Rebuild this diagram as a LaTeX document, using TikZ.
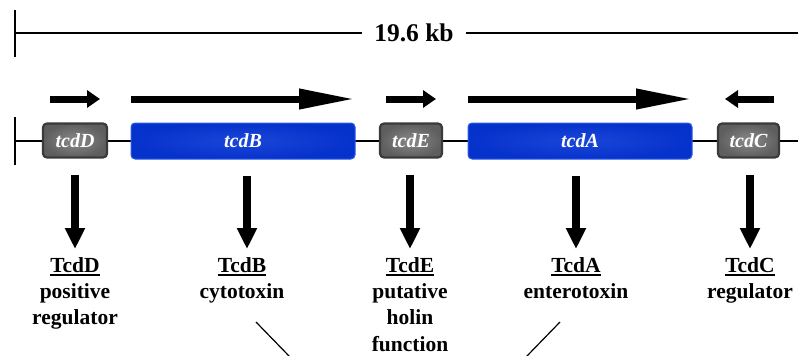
\documentclass[tikz,border=0pt]{standalone}
\usepackage{fontspec}
\setmainfont{Liberation Serif}
\usetikzlibrary{arrows.meta}
% thick underline for protein names
\newcommand\protul[1]{\setbox0\hbox{#1}\leavevmode\rlap{\rule[-3.6pt]{\wd0}{1.6pt}}\box0}
\definecolor{genegrayedge}{HTML}{3A3A3A}
\definecolor{genegrayin}{HTML}{8A8A8A}
\definecolor{genegrayout}{HTML}{5E5E5E}
\definecolor{geneblueedge}{HTML}{2A5AE8}
\definecolor{geneblueout}{HTML}{0632CC}
\definecolor{genebluein}{HTML}{1A46D8}
\tikzset{
  smallgene/.style={rounded corners=4pt, draw=genegrayedge, line width=2.2pt,
    inner color=genegrayin, outer color=genegrayout,
    minimum height=34pt, inner sep=0pt,
    text=white, font=\fontsize{20}{20}\selectfont\bfseries\itshape},
  biggene/.style={rounded corners=4pt, draw=geneblueedge, line width=1pt,
    inner color=genebluein, outer color=geneblueout,
    minimum height=36pt, minimum width=224pt, inner sep=0pt,
    text=white, font=\fontsize{20}{20}\selectfont\bfseries\itshape},
  protein/.style={anchor=north, align=center, inner sep=0pt,
    font=\fontsize{21.5}{26.3}\selectfont\bfseries},
  shortdir/.style={line width=7pt, -{Triangle[width=17pt,length=13pt]}},
  longdir/.style={line width=7pt, -{Triangle[width=19pt,length=56pt]}},
  downarrow/.style={line width=8.5pt, -{Triangle[width=19pt,length=21pt]},
    shorten <=16pt, shorten >=8pt},
  scalebar/.style={line width=2.8pt},
  backbone/.style={line width=1.8pt},
}
\begin{document}
\begin{tikzpicture}[x=1pt,y=-1pt]
\useasboundingbox (0,0) rectangle (798,356);

% scale bar for the whole locus
\node[font=\fontsize{25.5}{25.5}\selectfont\bfseries, inner xsep=12pt, inner ysep=2pt] (kb) at (414,33) {19.6 kb};
\coordinate (sbL) at (15,33);
\coordinate (sbR) at (798,33);
\draw[scalebar] (15,10) -- (15,57);
\draw[scalebar] (sbL) -- (kb.west);
\draw[scalebar] (kb.east) -- (sbR);

% chromosome backbone
\coordinate (bbL) at (15,141);
\coordinate (bbR) at (798,141);
\draw[scalebar] (15,117) -- (15,165);
\draw[backbone] (bbL) -- (bbR);

% genes of the locus
\node[smallgene, minimum width=64pt] (tcdD) at (75,140.5) {tcdD};
\node[biggene] (tcdB) at (243,141) {tcdB};
\node[smallgene, minimum width=62pt] (tcdE) at (411,140.5) {tcdE};
\node[biggene] (tcdA) at (580,141) {tcdA};
\node[smallgene, minimum width=61pt] (tcdC) at (748.5,140.5) {tcdC};

% transcription direction
\coordinate (dD1) at (50,99);  \coordinate (dD2) at (100,99);
\coordinate (dB1) at (131,99); \coordinate (dB2) at (355,99);
\coordinate (dE1) at (386,99); \coordinate (dE2) at (436,99);
\coordinate (dA1) at (468,99); \coordinate (dA2) at (692,99);
\coordinate (dC1) at (774,99); \coordinate (dC2) at (725,99);
\draw[shortdir] (dD1) -- (dD2);
\draw[longdir]  (dB1) -- (dB2);
\draw[shortdir] (dE1) -- (dE2);
\draw[longdir]  (dA1) -- (dA2);
\draw[shortdir] (dC1) -- (dC2);

% gene products
\node[protein] (pD) at (75,257)  {\protul{TcdD}\\positive\\regulator};
\node[protein] (pB) at (242,257) {\protul{TcdB}\\cytotoxin};
\node[protein] (pE) at (410,257) {\protul{TcdE}\\putative\\holin\\function};
\node[protein] (pA) at (576,257) {\protul{TcdA}\\enterotoxin};
\node[protein] (pC) at (750,257) {\protul{TcdC}\\regulator};

\draw[downarrow] (tcdD.south -| pD.north) -- (pD.north);
\draw[downarrow] ([xshift=5pt]tcdB.south -| pB.north) -- ([xshift=5pt]pB.north);
\draw[downarrow] (tcdE.south -| pE.north) -- (pE.north);
\draw[downarrow] (tcdA.south -| pA.north) -- (pA.north);
\draw[downarrow] (tcdC.south -| pC.north) -- (pC.north);

% the two toxins converge below
\coordinate (cB1) at (256,322); \coordinate (cB2) at (290,357);
\coordinate (cA1) at (560,322); \coordinate (cA2) at (526,357);
\draw[line width=1.2pt] (cB1) -- (cB2);
\draw[line width=1.2pt] (cA1) -- (cA2);
\end{tikzpicture}
\end{document}
